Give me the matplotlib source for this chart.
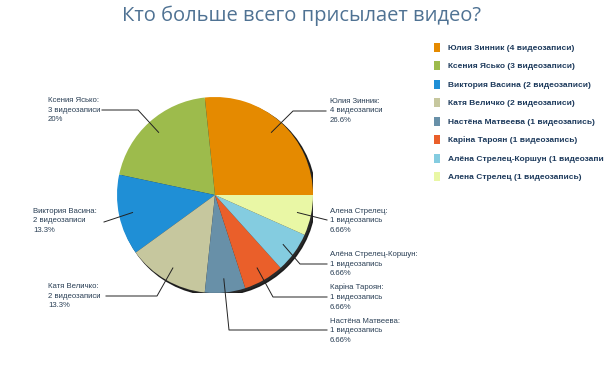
import matplotlib.pyplot as plt
import numpy as np
from matplotlib.patches import Circle

# data
names = ['Юлия Зинник', 'Ксения Ясько', 'Виктория Васина', 'Катя Величко',
         'Настёна Матвеева', 'Каріна Тароян', 'Алёна Стрелец-Коршун', 'Алена Стрелец']
counts = [4, 3, 2, 2, 1, 1, 1, 1]
words = ['видеозаписи', 'видеозаписи', 'видеозаписи', 'видеозаписи',
         'видеозапись', 'видеозапись', 'видеозапись', 'видеозапись']
percents = ['26.6%', '20%', '13.3%', '13.3%', '6.66%', '6.66%', '6.66%', '6.66%']
colors = ['#E58A00', '#9DBB4C', '#1F8FD6', '#C6C79E',
          '#6890A8', '#EA5F2A', '#84CCE0', '#E9F7A5']
title = 'Кто больше всего присылает видео?'

W, H = 604, 378
cx, cy, R = 215, 195, 98  # pie centre / radius in pixels

fig = plt.figure(figsize=(W / 100, H / 100), dpi=100)
fig.patch.set_facecolor('white')
ax = fig.add_axes([(cx - R) / W, (H - cy - R) / H, 2 * R / W, 2 * R / H])

wedges, _ = ax.pie(counts, colors=colors, startangle=0, counterclock=True,
                   radius=1.0, wedgeprops=dict(linewidth=0))
for w in wedges:
    w.set_zorder(1)

# thin dark shadow on lower right
ax.add_patch(Circle((0.025, -0.025), 1.0, color='#111111', alpha=0.9, zorder=0))

ax.set_xlim(-1, 1)
ax.set_ylim(-1, 1)
ax.axis('off')


def px(x, y):
    # pixel coords (top-left origin) -> pie data coords
    return (x - cx) / R, (cy - y) / R


# label text position (left x, middle line y) and elbow point, in pixels
text_pos = [(330, 111), (48, 110), (33, 221), (48, 296),
            (330, 331), (330, 297), (330, 264), (330, 221)]
elbows = [(293, 111), (138, 110), None, (157, 296),
          (229, 330), (273, 297), (300, 264), None]
line_end = [(326, 111), (102, 110), (104, 222), (106, 296),
            (327, 330), (327, 297), (327, 264), (327, 220)]

for i, w in enumerate(wedges):
    mid = np.deg2rad((w.theta1 + w.theta2) / 2)
    ax_, ay_ = 0.86 * np.cos(mid), 0.86 * np.sin(mid)
    pts = [(ax_, ay_)]
    if elbows[i] is not None:
        pts.append(px(*elbows[i]))
    pts.append(px(*line_end[i]))
    xs, ys = zip(*pts)
    ax.plot(xs, ys, color='#222222', lw=0.7, clip_on=False, zorder=3)
    tx, ty = text_pos[i]
    fig.text(tx / W, 1 - ty / H,
             '%s:\n%d %s\n%s' % (names[i], counts[i], words[i], percents[i]),
             ha='left', va='center', fontsize=5.6, family='Liberation Sans',
             color='#2a3f55', linespacing=1.55)

fig.text(0.5, 1 - 16 / H, title, ha='center', va='center', fontsize=14.5,
         family='Open Sans', color='#4f7293')

labels = ['%s (%d %s)' % (n, c, wd) for n, c, wd in zip(names, counts, words)]
leg = fig.legend(wedges, labels, loc='upper left',
                 bbox_to_anchor=(426 / W, 1 - 35 / H), frameon=False,
                 prop=dict(family='Liberation Sans', weight='bold', size=6),
                 handlelength=0.75, handleheight=1.3, handletextpad=1.0,
                 labelspacing=1.1)
for t in leg.get_texts():
    t.set_color('#1d3a5c')

fig.savefig('out.png', dpi=100)
